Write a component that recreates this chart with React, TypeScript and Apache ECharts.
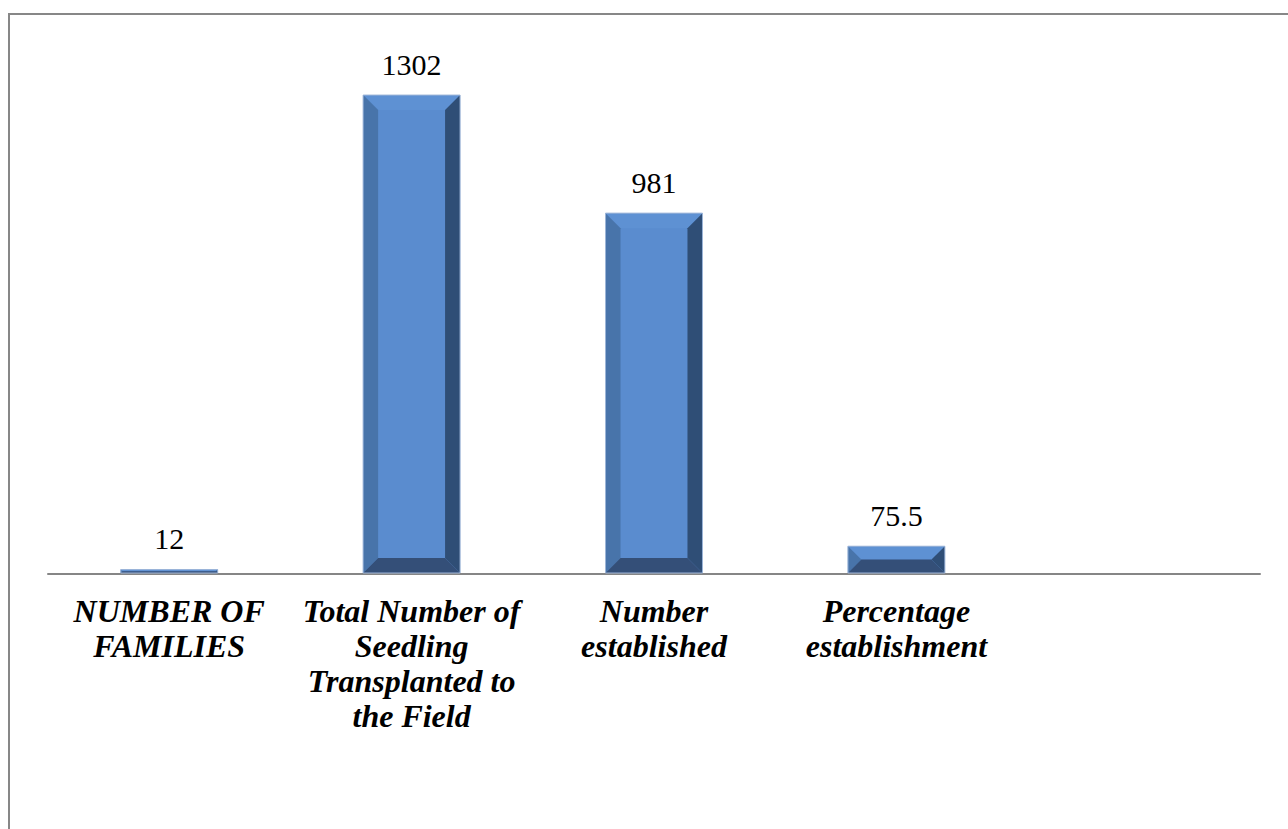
import React, { useEffect, useRef } from "react";
import * as echarts from "echarts";

const categories = [
  "NUMBER OF\nFAMILIES",
  "Total Number of\nSeedling\nTransplanted to\nthe Field",
  "Number\nestablished",
  "Percentage\nestablishment",
  "",
];
const values = [12, 1302, 981, 75.5];
const labels = ["12", "1302", "981", "75.5"];

export default function App() {
  const ref = useRef<HTMLDivElement>(null);
  useEffect(() => {
    if (!ref.current) return;
    const chart = echarts.init(ref.current, undefined, { renderer: "svg" });
    const option: any = {
      animation: false,
      backgroundColor: "#ffffff",
      graphic: [
        {
          type: "rect",
          shape: { x: 9, y: 14, width: 1400, height: 1000 },
          style: { fill: "none", stroke: "#878787", lineWidth: 2 },
          silent: true,
        },
      ],
      grid: { left: 48, right: 28, top: 59, bottom: 255 },
      xAxis: {
        type: "category",
        data: categories,
        boundaryGap: true,
        axisLine: { show: true, lineStyle: { color: "#868686", width: 2 } },
        axisTick: { show: false },
        axisLabel: {
          interval: 0,
          margin: 19,
          color: "#000000",
          fontFamily: "'Liberation Serif', 'Times New Roman', serif",
          fontWeight: "bold",
          fontStyle: "italic",
          fontSize: 32,
          lineHeight: 35,
          align: "center",
        },
      },
      yAxis: {
        type: "value",
        min: 0,
        max: 1400,
        show: false,
        splitLine: { show: false },
      },
      series: [
        {
          type: "custom",
          data: values,
          z: 2,
          renderItem: (params: any, api: any) => {
            const idx = api.value(0);
            const v = api.value(1);
            const top = api.coord([idx, v]);
            const base = api.coord([idx, 0]);
            const w = api.size([1, 0])[0] * 0.4;
            const x0 = top[0] - w / 2;
            const x1 = top[0] + w / 2;
            const y0 = top[1];
            const y1 = base[1] - 1;
            const h = y1 - y0;
            const b = Math.min(15, h / 2, w / 2);
            return {
              type: "group",
              children: [
                {
                  type: "rect",
                  shape: { x: x0, y: y0, width: w, height: h },
                  style: { fill: "#5a8ccf" },
                },
                {
                  type: "polygon",
                  shape: { points: [[x0, y0], [x1, y0], [x1 - b, y0 + b], [x0 + b, y0 + b]] },
                  style: { fill: "#5e91d3" },
                },
                {
                  type: "polygon",
                  shape: { points: [[x0, y0], [x0 + b, y0 + b], [x0 + b, y1 - b], [x0, y1]] },
                  style: { fill: "#4874aa" },
                },
                {
                  type: "polygon",
                  shape: { points: [[x1, y0], [x1, y1], [x1 - b, y1 - b], [x1 - b, y0 + b]] },
                  style: { fill: "#2f4e76" },
                },
                {
                  type: "polygon",
                  shape: { points: [[x0, y1], [x0 + b, y1 - b], [x1 - b, y1 - b], [x1, y1]] },
                  style: { fill: "#344f78" },
                },
                {
                  type: "rect",
                  shape: { x: x0, y: y0, width: w, height: h },
                  style: { fill: "none", stroke: "#9db5d8", lineWidth: 1 },
                },
              ],
            };
          },
          encode: { x: 0, y: 1 },
        },
        {
          type: "bar",
          data: values,
          barWidth: "40%",
          itemStyle: { color: "rgba(0,0,0,0)" },
          z: 1,
          label: {
            show: true,
            position: "top",
            distance: 16,
            color: "#000000",
            fontFamily: "'Liberation Serif', 'Times New Roman', serif",
            fontSize: 30,
            formatter: (p: any) => labels[p.dataIndex],
          },
        },
      ],
    };
    chart.setOption(option);
    return () => chart.dispose();
  }, []);
  return (
    <div
      ref={ref}
      style={{ position: "fixed", left: 0, top: 0, width: 1288, height: 829 }}
    />
  );
}
